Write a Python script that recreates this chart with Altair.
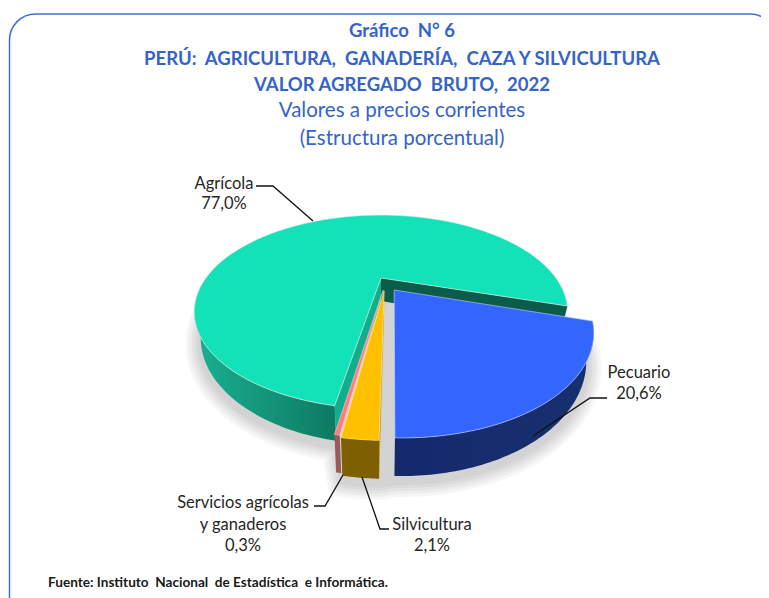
import math
import altair as alt
import pandas as pd

# ---- data
categories = ["Agrícola", "Pecuario", "Silvicultura", "Servicios agrícolas y ganaderos"]
shares = [77.0, 20.6, 2.1, 0.3]

NB = "\u00a0"
title_lines = ["Gráfico" + NB + NB + "N° 6",
               "PERÚ:" + NB + NB + "AGRICULTURA," + NB + NB + "GANADERÍA," + NB + NB + "CAZA Y SILVICULTURA",
               "VALOR AGREGADO" + NB + NB + "BRUTO," + NB + NB + "2022"]
subtitle_lines = ["Valores a precios corrientes", "(Estructura porcentual)"]
source_line = "Fuente:" + NB + "Instituto" + NB + NB + "Nacional" + NB + NB + "de Estadística" + NB + NB + "e Informática."

# ---- projection of the tilted, exploded pie
CX, CY = 381.0, 278.0
A, B, K = 85.0, 175.0, 0.35
DEPTH, SHRINK = 23.0, 0.965
START = 17.2
OFFSET = {  # explosion of each slice on the pie's plane
    "Agrícola": (0.0, 0.0),
    "Pecuario": (0.0717, 0.1345),
    "Silvicultura": (0.017, 0.145),
    "Servicios agrícolas y ganaderos": (0.012, 0.135),
}

def top(u, v):
    w = 1 - K * v
    return CX + B * u / w, CY + A * v / w

def bottom(u, v):
    x, y = top(u, v)
    return CX + (x - CX) * SHRINK, y + DEPTH / (1 - K * v)

def arc(name, a0, a1, fn, n=90):
    ox, oy = OFFSET[name]
    pts = []
    for i in range(n + 1):
        t = math.radians(a0 + (a1 - a0) * i / n)
        pts.append(fn(ox + math.cos(t), oy + math.sin(t)))
    return pts

spans = {}
angle = START
for name, share in zip(categories[1:] + categories[:1], shares[1:] + shares[:1]):
    spans[name] = (angle, angle + share * 3.6)
    angle += share * 3.6

X = alt.X("x:Q", scale=alt.Scale(domain=[8, 761], nice=False, zero=False), axis=None)
Y = alt.Y("y:Q", scale=alt.Scale(domain=[598, 8], nice=False, zero=False), axis=None)

def poly(pts, fill, stroke=None, sw=0.0, opacity=None):
    pts = list(pts) + [pts[0]]
    df = pd.DataFrame({"x": [p[0] for p in pts], "y": [p[1] for p in pts], "i": range(len(pts))})
    kw = dict(fill=fill, strokeWidth=sw, stroke=stroke if stroke else "transparent")
    if opacity is not None:
        kw["opacity"] = opacity
    return alt.Chart(df).mark_line(interpolate="linear", **kw).encode(x=X, y=Y, order=alt.Order("i:Q"))

def line(pts, color="#111111", sw=1.3):
    df = pd.DataFrame({"x": [p[0] for p in pts], "y": [p[1] for p in pts], "i": range(len(pts))})
    return alt.Chart(df).mark_line(color=color, strokeWidth=sw).encode(x=X, y=Y, order=alt.Order("i:Q"))

def hgrad(c0, c1):
    return alt.LinearGradient(gradient="linear", x1=0, x2=1, y1=0, y2=0,
                              stops=[alt.GradientStop(color=c0, offset=0), alt.GradientStop(color=c1, offset=1)])

def side(name, a0, a1, fill):
    return poly(arc(name, a0, a1, top) + arc(name, a0, a1, bottom)[::-1], fill)

def face(name, a, fill):
    ox, oy = OFFSET[name]
    t = math.radians(a)
    u, v = ox + math.cos(t), oy + math.sin(t)
    return poly([top(ox, oy), top(u, v), bottom(u, v), bottom(ox, oy)], fill)

def wedge(name, a0, a1, fill, edge="#e8f4f0"):
    ox, oy = OFFSET[name]
    return poly([top(ox, oy)] + arc(name, a0, a1, top), fill, stroke=edge, sw=0.6)

AG, PE, SI, SE = categories
layers = []

# border
layers.append(alt.Chart(pd.DataFrame({"k": [0]})).mark_rect(
    cornerRadius=26, fill="transparent", stroke="#3f6fd0", strokeWidth=1.5
).encode(x=alt.value(1.5), x2=alt.value(768), y=alt.value(6), y2=alt.value(640)))

# soft shadow
outline = (arc(AG, spans[AG][0], spans[AG][1], bottom) + arc(PE, spans[PE][0], spans[PE][1], bottom)
           + arc(SI, spans[SI][0], spans[SI][1], bottom))
outline = [(x, y + 6) for x, y in outline]
for w in (30, 24, 18, 12, 6):
    layers.append(poly(outline, "#000000", stroke="#000000", sw=w, opacity=0.032))

# Agrícola
a0, a1 = spans[AG]
layers.append(side(AG, a0, 200, hgrad("#1ab091", "#0d7a62")))
layers.append(face(AG, a1, "#0b5c4a"))
layers.append(face(AG, a0, "#11ad8c"))
layers.append(wedge(AG, a0, a1, "#13e2b9"))

# Servicios, Silvicultura
a0, a1 = spans[SE]
layers.append(side(SE, a0, a1, "#9a5a5a"))
layers.append(wedge(SE, a0, a1, "#ff7c80", edge="#ffd0d0"))
a0, a1 = spans[SI]
layers.append(face(SI, a0, "#c79a1a"))
layers.append(side(SI, a0, a1, "#7f6000"))
layers.append(wedge(SI, a0, a1, "#ffc000", edge="#ffe9a8"))

# Pecuario
a0, a1 = spans[PE]
layers.append(side(PE, a0, a1, hgrad("#14296c", "#17306f")))
layers.append(wedge(PE, a0, a1, "#3366ff", edge="#c8d4ff"))

# leader lines
layers.append(line([(256, 186), (273, 186), (313, 221)]))
layers.append(line([(607, 398), (590, 398), (533, 436)]))
layers.append(line([(314, 506), (325, 506), (343, 475)]))
layers.append(line([(362, 477), (380, 529), (389, 529)]))

def texts(rows, color, size, bold=False, align="center"):
    df = pd.DataFrame(rows, columns=["x", "y", "t"])
    return alt.Chart(df).mark_text(
        font="Lato", fontSize=size, fontWeight="bold" if bold else "normal",
        color=color, align=align, baseline="middle"
    ).encode(x=X, y=Y, text="t:N")

BLUE = "#3564c8"
layers.append(texts([(402, 31, title_lines[0]), (402, 59, title_lines[1]), (402, 85, title_lines[2])], BLUE, 18.5, True))
layers.append(texts([(402, 111, subtitle_lines[0]), (402, 139, subtitle_lines[1])], BLUE, 20.5))
INK = "#262626"
layers.append(texts([
    (224, 184, "Agrícola"), (224, 204, "77,0%"),
    (639, 373, "Pecuario"), (639, 394, "20,6%"),
    (243, 503, "Servicios agrícolas"), (243, 525, "y ganaderos"), (243, 546, "0,3%"),
    (432, 525, "Silvicultura"), (432, 546, "2,1%"),
], INK, 16.5))
layers.append(texts([(48, 583, source_line)], "#1a1a1a", 13.6, True, "left"))

chart = alt.layer(*layers).properties(
    width=753, height=590, padding=0, autosize=alt.AutoSizeParams(type="none"), background="white"
).configure_view(stroke=None)

chart.save("out.html", embed_options={"renderer": "svg", "actions": False})
